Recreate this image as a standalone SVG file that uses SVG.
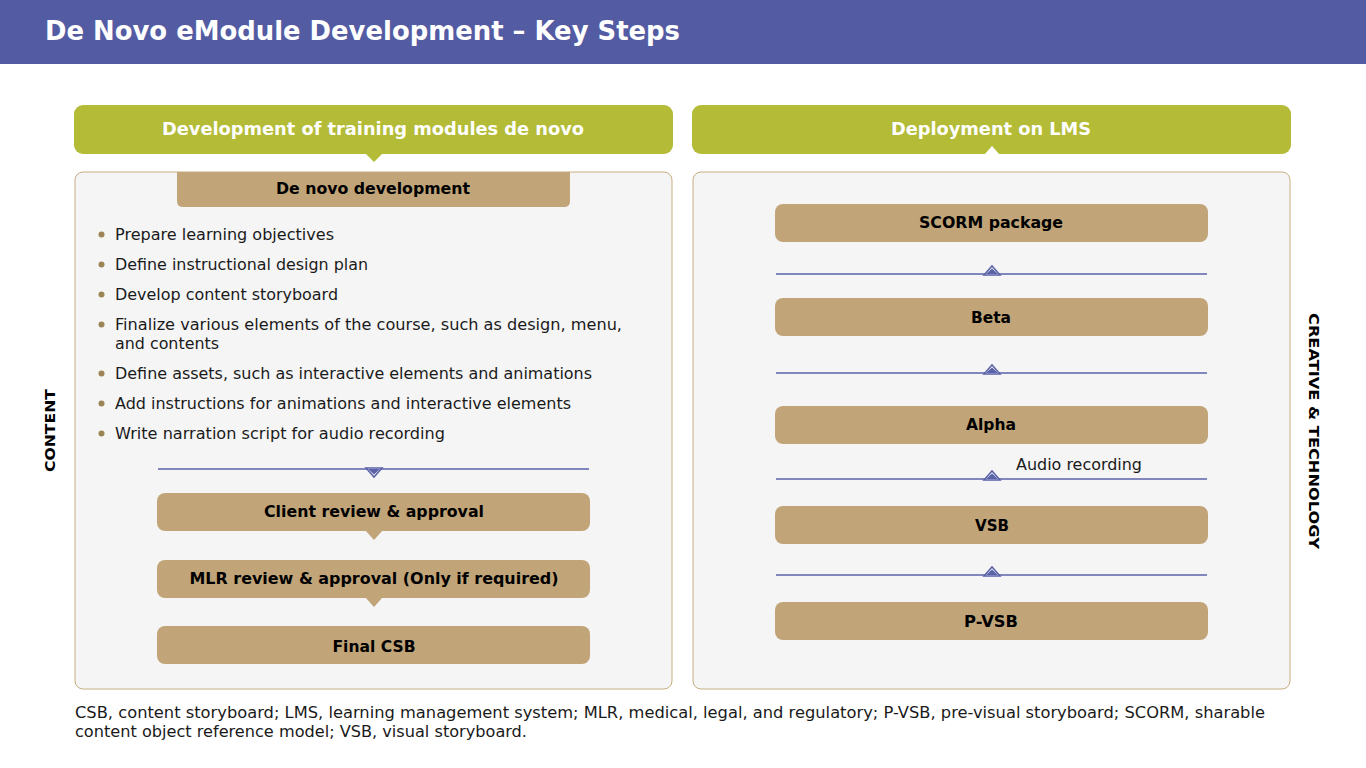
<svg xmlns="http://www.w3.org/2000/svg" width="1366" height="768" viewBox="0 0 1366 768">
<style>
.hdr{fill:#b3bb37}
.panel{fill:#f5f5f5;stroke:#c8ad80;stroke-width:1}
.step{fill:#c1a578}
.t{font-family:"DejaVu Sans",Verdana,sans-serif}
.b{font-weight:bold}
.hw{fill:#ffffff;font-size:17.5px;font-weight:bold;text-anchor:middle}
.st{fill:#000000;font-size:15.8px;font-weight:bold;text-anchor:middle}
.bl{fill:#1a1a1a;font-size:16px}
.dot{fill:#9c8454}
.ln{stroke:#5a62a8;stroke-width:1.5;fill:none}
.chev{fill:#f5f5f5;stroke:#5a62a8;stroke-width:1.5}
.tri{fill:#5a62a8}
</style>
<rect x="0" y="0" width="1366" height="768" fill="#ffffff"/>
<g id="titlebar">
<rect x="0" y="0" width="1366" height="64" fill="#535ba3"/>
<text class="t b" x="45" y="40" fill="#ffffff" font-size="26" textLength="635" lengthAdjust="spacingAndGlyphs">De Novo eModule Development – Key Steps</text>
</g>
<g id="header-left">
<rect class="hdr" x="74" y="105" width="599" height="49" rx="9"/>
<polygon class="hdr" points="365,153 374,162 383,153"/>
<text class="t hw" x="373" y="135" textLength="422" lengthAdjust="spacingAndGlyphs">Development of training modules de novo</text>
</g>
<g id="header-right">
<rect class="hdr" x="692" y="105" width="599" height="49" rx="9"/>
<polygon fill="#ffffff" points="984,155 992,146 1000,155"/>
<text class="t hw" x="991" y="135" textLength="200" lengthAdjust="spacingAndGlyphs">Deployment on LMS</text>
</g>
<g id="panel-left">
<rect class="panel" x="75" y="172" width="597" height="517" rx="8"/>
</g>
<g id="panel-right">
<rect class="panel" x="693" y="172" width="597" height="517" rx="8"/>
</g>
<g id="de-novo-development">
<path class="step" d="M177,172 H570 V201 Q570,207 564,207 H183 Q177,207 177,201 Z"/>
<text class="t st" x="373" y="194" textLength="194" lengthAdjust="spacingAndGlyphs">De novo development</text>
</g>
<g id="bullets" class="t bl">
<circle class="dot" cx="101.5" cy="234.5" r="3"/>
<text x="115" y="240" textLength="219" lengthAdjust="spacingAndGlyphs">Prepare learning objectives</text>
<circle class="dot" cx="101.5" cy="264.5" r="3"/>
<text x="115" y="270" textLength="253" lengthAdjust="spacingAndGlyphs">Define instructional design plan</text>
<circle class="dot" cx="101.5" cy="294.5" r="3"/>
<text x="115" y="300" textLength="223" lengthAdjust="spacingAndGlyphs">Develop content storyboard</text>
<circle class="dot" cx="101.5" cy="324.5" r="3"/>
<text x="115" y="330" textLength="507" lengthAdjust="spacingAndGlyphs">Finalize various elements of the course, such as design, menu,</text>
<text x="115" y="349" textLength="104" lengthAdjust="spacingAndGlyphs">and contents</text>
<circle class="dot" cx="101.5" cy="373.5" r="3"/>
<text x="115" y="379" textLength="477" lengthAdjust="spacingAndGlyphs">Define assets, such as interactive elements and animations</text>
<circle class="dot" cx="101.5" cy="403.5" r="3"/>
<text x="115" y="409" textLength="456" lengthAdjust="spacingAndGlyphs">Add instructions for animations and interactive elements</text>
<circle class="dot" cx="101.5" cy="433.5" r="3"/>
<text x="115" y="439" textLength="330" lengthAdjust="spacingAndGlyphs">Write narration script for audio recording</text>
</g>
<g id="client-review">
<rect class="step" x="157" y="493" width="433" height="38" rx="8"/>
<polygon class="step" points="365,530 374,540 383,530"/>
<text class="t st" x="374" y="517" textLength="220" lengthAdjust="spacingAndGlyphs">Client review &amp; approval</text>
</g>
<g id="mlr-review">
<rect class="step" x="157" y="560" width="433" height="38" rx="8"/>
<polygon class="step" points="365,597 374,607 383,597"/>
<text class="t st" x="374" y="584" textLength="369" lengthAdjust="spacingAndGlyphs">MLR review &amp; approval (Only if required)</text>
</g>
<g id="final-csb">
<rect class="step" x="157" y="626" width="433" height="38" rx="8"/>
<text class="t st" x="374" y="652" textLength="83" lengthAdjust="spacingAndGlyphs">Final CSB</text>
</g>
<g id="scorm">
<rect class="step" x="775" y="204" width="433" height="38" rx="8"/>
<text class="t st" x="991" y="228" textLength="144" lengthAdjust="spacingAndGlyphs">SCORM package</text>
</g>
<g id="beta">
<rect class="step" x="775" y="298" width="433" height="38" rx="8"/>
<text class="t st" x="991" y="323" textLength="40" lengthAdjust="spacingAndGlyphs">Beta</text>
</g>
<g id="alpha">
<rect class="step" x="775" y="406" width="433" height="38" rx="8"/>
<text class="t st" x="991" y="430" textLength="50" lengthAdjust="spacingAndGlyphs">Alpha</text>
</g>
<g id="vsb">
<rect class="step" x="775" y="506" width="433" height="38" rx="8"/>
<text class="t st" x="992" y="531" textLength="34" lengthAdjust="spacingAndGlyphs">VSB</text>
</g>
<g id="p-vsb">
<rect class="step" x="775" y="602" width="433" height="38" rx="8"/>
<text class="t st" x="991" y="627" textLength="54" lengthAdjust="spacingAndGlyphs">P-VSB</text>
</g>
<g id="connectors">
<line class="ln" x1="158" y1="469" x2="589" y2="469"/>
<polygon class="chev" points="366,468 374,477 382,468"/>
<polygon class="tri" points="368,469 374,474.5 380,469"/>
<line class="ln" x1="776" y1="274" x2="1207" y2="274"/>
<polygon class="chev" points="984,275 992,266 1000,275"/>
<polygon class="tri" points="986,274 992,268.5 998,274"/>
<line class="ln" x1="776" y1="373" x2="1207" y2="373"/>
<polygon class="chev" points="984,374 992,365 1000,374"/>
<polygon class="tri" points="986,373 992,367.5 998,373"/>
<line class="ln" x1="776" y1="479" x2="1207" y2="479"/>
<polygon class="chev" points="984,480 992,471 1000,480"/>
<polygon class="tri" points="986,479 992,473.5 998,479"/>
<line class="ln" x1="776" y1="575" x2="1207" y2="575"/>
<polygon class="chev" points="984,576 992,567 1000,576"/>
<polygon class="tri" points="986,575 992,569.5 998,575"/>
<text class="t" x="1016" y="470" font-size="15.5" fill="#1a1a1a" textLength="126" lengthAdjust="spacingAndGlyphs">Audio recording</text>
</g>
<g id="side-labels">
<text class="t b" transform="translate(55,430.5) rotate(-90)" font-size="14.5" text-anchor="middle" fill="#000" textLength="83" lengthAdjust="spacingAndGlyphs">CONTENT</text>
<text class="t b" transform="translate(1309,431) rotate(90)" font-size="14.5" text-anchor="middle" fill="#000" textLength="236" lengthAdjust="spacingAndGlyphs">CREATIVE &amp; TECHNOLOGY</text>
</g>
<g id="footnote" class="t" font-size="15.5" fill="#1a1a1a">
<text x="75" y="718" textLength="1190" lengthAdjust="spacingAndGlyphs">CSB, content storyboard; LMS, learning management system; MLR, medical, legal, and regulatory; P-VSB, pre-visual storyboard; SCORM, sharable</text>
<text x="75" y="737" textLength="452" lengthAdjust="spacingAndGlyphs">content object reference model; VSB, visual storyboard.</text>
</g>
</svg>
